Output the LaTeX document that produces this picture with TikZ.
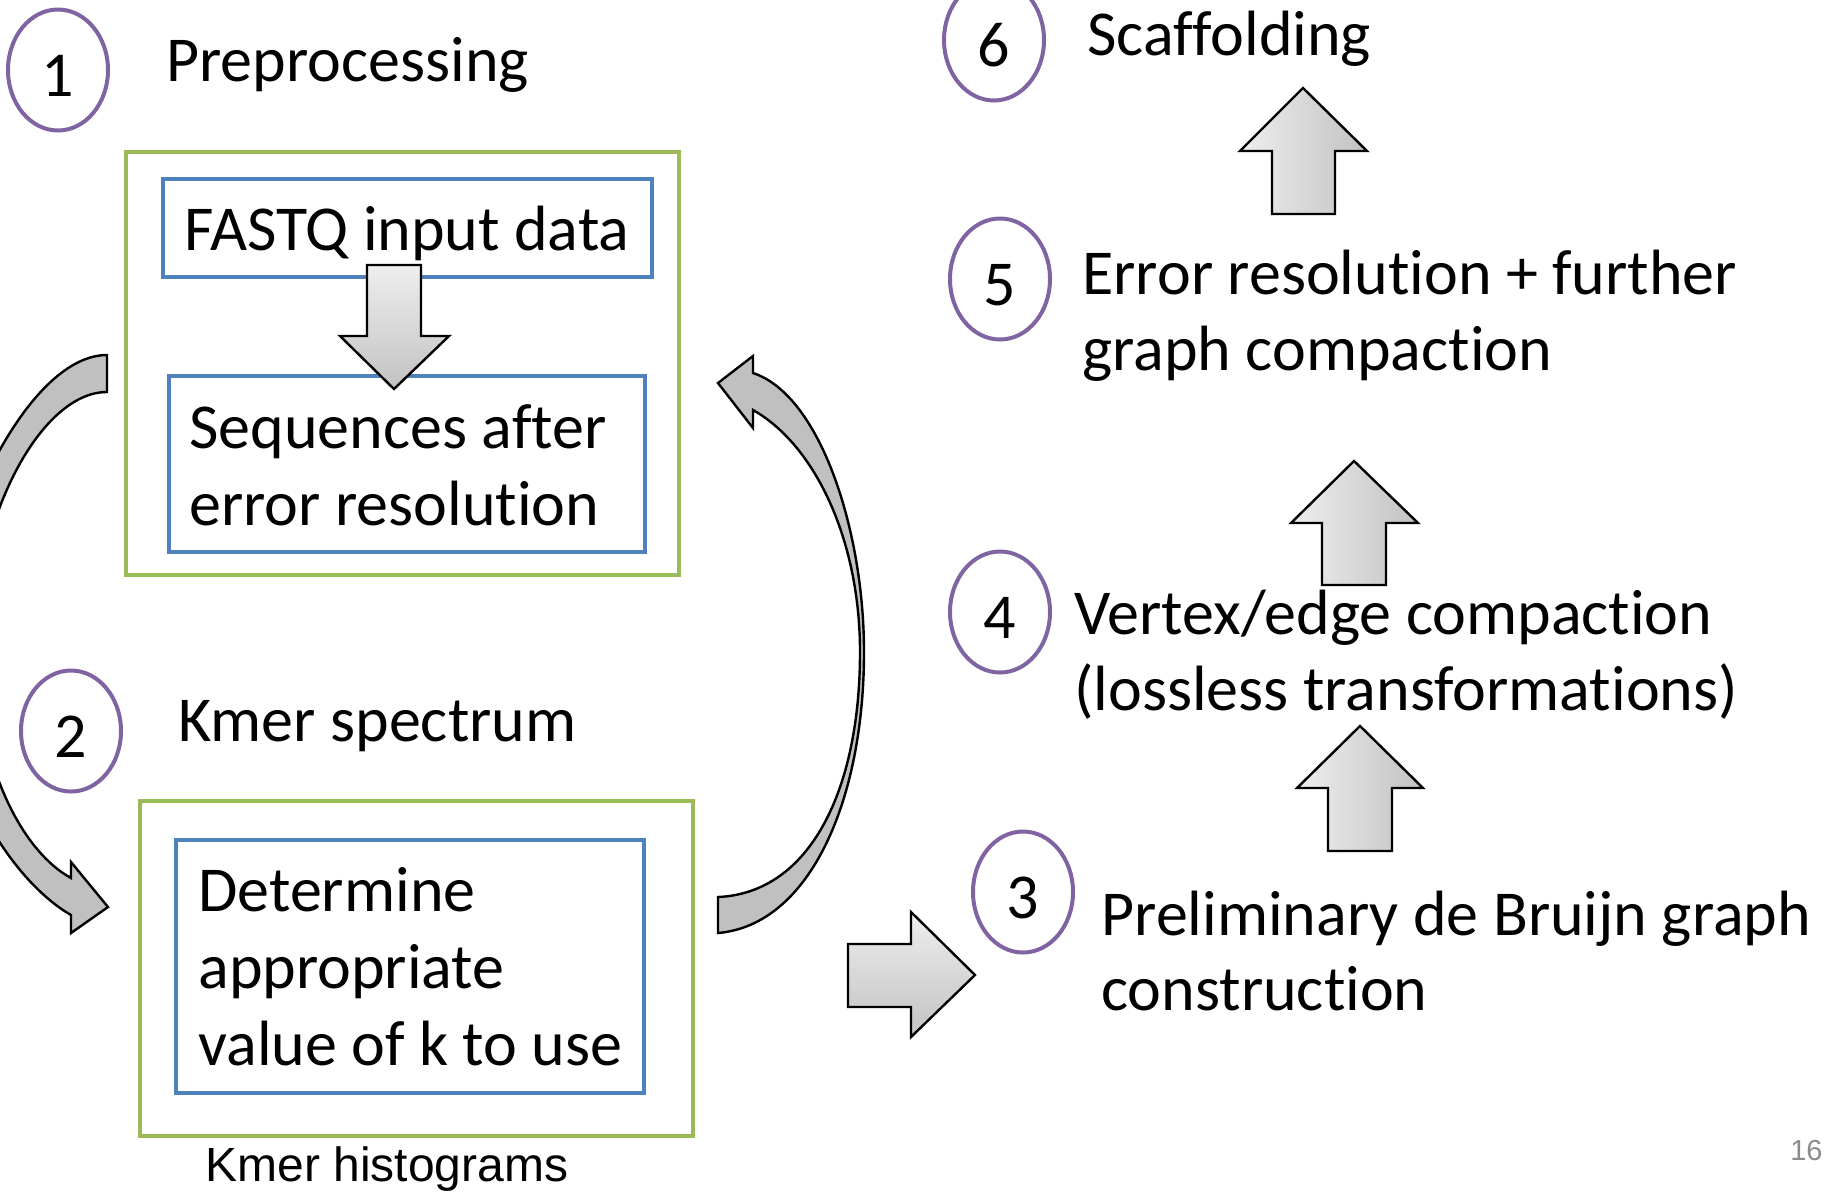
\documentclass[tikz,border=0pt]{standalone}
\usepackage{fontspec}
\setmainfont{Carlito}[Ligatures=NoCommon]
\newfontfamily\arialfont{Liberation Sans}
\usetikzlibrary{shapes.geometric}
\definecolor{boxgreen}{HTML}{9BBB59}
\definecolor{boxblue}{HTML}{4F81BD}
\definecolor{circpurple}{HTML}{8064A2}
\definecolor{arrowgray}{HTML}{C0C0C0}
\definecolor{lightgray}{HTML}{EEEEEE}
\definecolor{darkgray}{HTML}{C2C2C2}
\definecolor{pagenum}{HTML}{8C8C8C}
\begin{document}
\begin{tikzpicture}[x=0.5pt,y=-0.5pt,
  greenbox/.style={draw=boxgreen, line width=2pt},
  bluebox/.style={draw=boxblue, line width=2pt},
  stepcircle/.style={ellipse, draw=circpurple, line width=2pt, minimum width=50pt, minimum height=60.5pt, inner sep=0pt, text height=26pt, text depth=0pt, font=\fontsize{32}{38}\selectfont},
  maintext/.style={anchor=base west, inner sep=0pt, font=\fontsize{32}{38}\selectfont},
  blockv/.style={draw=black, line width=1.2pt, top color=lightgray, bottom color=darkgray, line join=miter},
  blockh/.style={draw=black, line width=1.2pt, left color=lightgray, right color=darkgray, line join=miter},
  curvearrow/.style={draw=black, line width=1.2pt, fill=arrowgray, line join=miter}
]
\useasboundingbox (0,0) rectangle (1825,1191);
\clip (0,0) rectangle (1825,1191);

% boxes
\draw[greenbox] (126,152) rectangle (679,575);
\draw[greenbox] (140,801) rectangle (693,1136);
\draw[bluebox] (163,179) rectangle (652,277);
\draw[bluebox] (169,376) rectangle (645,552);
\draw[bluebox] (176,840) rectangle (644,1093);

% step circles
\node[stepcircle] (c1) at (58,70) {1};
\node[stepcircle] (c2) at (71,731) {2};
\node[stepcircle] (c3) at (1023,892) {3};
\node[stepcircle] (c4) at (1000,612) {4};
\node[stepcircle] (c5) at (1000,279) {5};
\node[stepcircle] (c6) at (994,40) {6};

% titles
\node[maintext] (t1) at (166,81) {Preprocessing};
\node[maintext] (t2) at (178,741) {Kmer spectrum};
\node[maintext] (t6) at (1087,55) {Scaffolding};
\node[maintext] (t5a) at (1082,294) {Error resolution + further};
\node[maintext] (t5b) at (1082,370) {graph compaction};
\node[maintext] (t4a) at (1074,634) {Vertex/edge compaction};
\node[maintext] (t4b) at (1074,710) {(lossless transformations)};
\node[maintext] (t3a) at (1101,935) {Preliminary de Bruijn graph};
\node[maintext] (t3b) at (1101,1010) {construction};

% box texts
\node[maintext] (fastq) at (184,250) {FASTQ input data};
\node[maintext] (seqa) at (189,448) {Sequences after};
\node[maintext] (seqb) at (189,525) {error resolution};
\node[maintext] (deta) at (198,911) {Determine};
\node[maintext] (detb) at (198,988) {appropriate};
\node[maintext] (detc) at (198,1065) {value of k to use};

\node[anchor=base west, inner sep=0pt, font=\arialfont\fontsize{24}{28}\selectfont] (hist) at (205,1181) {Kmer histograms};
\node[anchor=base east, inner sep=0pt, font=\arialfont\fontsize{14.5}{17}\selectfont, text=pagenum] (pg) at (1823,1160) {16};

% block arrows
\shadedraw[blockv] (367,265) -- (421,265) -- (421,336) -- (449,336) -- (394,389) -- (340,336) -- (367,336) -- cycle;
\shadedraw[blockh] (1272,214) -- (1272,151) -- (1240,151) -- (1303,88) -- (1367,151) -- (1335,151) -- (1335,214) -- cycle;
\shadedraw[blockh] (1322,585) -- (1322,523) -- (1291,523) -- (1354,461) -- (1418,523) -- (1386,523) -- (1386,585) -- cycle;
\shadedraw[blockh] (1328,851) -- (1328,788) -- (1297,788) -- (1360,726) -- (1423,788) -- (1392,788) -- (1392,851) -- cycle;
\shadedraw[blockv] (848,944) -- (911,944) -- (911,912) -- (975,975) -- (911,1037) -- (911,1007) -- (848,1007) -- cycle;

% curved arrows
\filldraw[curvearrow] (107,355) .. controls (30,355) and (-50,520) .. (-60,640)
  .. controls (-60,770) and (10,880) .. (71,915) -- (71,933) -- (108,907) -- (71,862) -- (71,878)
  .. controls (20,850) and (-25,760) .. (-25,640)
  .. controls (-25,520) and (40,392) .. (107,392) -- cycle;
\filldraw[curvearrow] (718,897) .. controls (810,893) and (860,790) .. (860,652)
  .. controls (860,540) and (815,445) .. (753,410) -- (753,428) -- (718,383) -- (753,356) -- (753,373)
  .. controls (820,395) and (864,530) .. (864,652)
  .. controls (864,800) and (810,925) .. (718,933) -- cycle;
\end{tikzpicture}
\end{document}
